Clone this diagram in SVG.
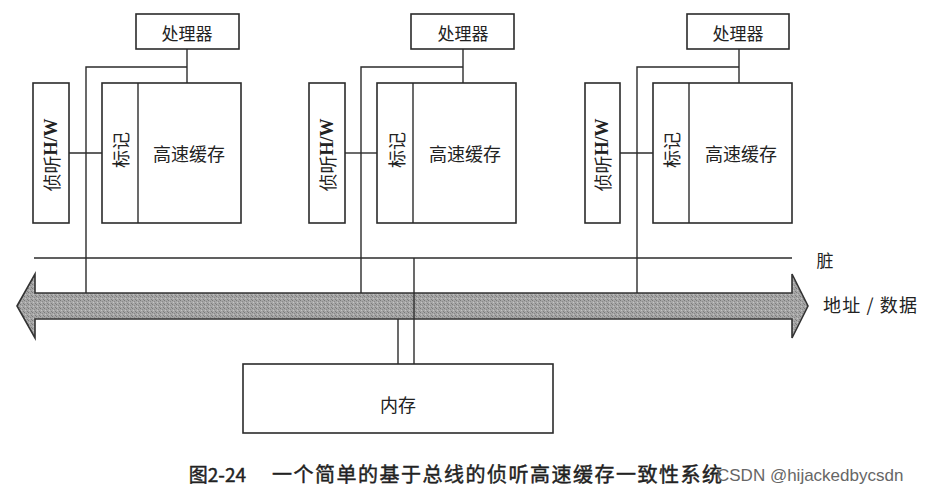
<svg xmlns="http://www.w3.org/2000/svg" width="928" height="494" viewBox="0 0 928 494">
<defs>
<pattern id="grain" width="4" height="4" patternUnits="userSpaceOnUse">
<rect width="4" height="4" fill="#a6a6a6"/>
<rect x="0" y="0" width="1" height="1" fill="#7a7a7a"/>
<rect x="2" y="1" width="1" height="1" fill="#8a8a8a"/>
<rect x="1" y="2" width="1" height="1" fill="#c4c4c4"/>
<rect x="3" y="3" width="1" height="1" fill="#7f7f7f"/>
</pattern>
<style>
.box{fill:none;stroke:#2b2b2b;stroke-width:1.6}
.ln{fill:none;stroke:#2b2b2b;stroke-width:1.4}
.t{font-family:"Noto Sans CJK SC","Noto Sans",sans-serif;fill:#222;text-anchor:middle;dominant-baseline:central}
.hw{font-family:"Liberation Serif",serif;font-weight:bold}
.cap{font-family:"Noto Sans CJK SC","Noto Sans",sans-serif;fill:#222;stroke:#222;stroke-width:0.45}
</style>
</defs>
<rect width="928" height="494" fill="#fff"/>

<g id="bus">
<polygon points="17,306 35,274 35,293 792,293 792,274 808,306 792,338 792,319 35,319 35,338" fill="url(#grain)" stroke="#333" stroke-width="1.6"/>
</g>

<g id="connectors">
<line class="ln" x1="34" y1="258" x2="792" y2="258"/>
<polyline class="ln" points="187,49 187,83"/>
<polyline class="ln" points="187,67 86,67 86,293"/>
<line class="ln" x1="69" y1="153" x2="102" y2="153"/>
<polyline class="ln" points="463,49 463,83"/>
<polyline class="ln" points="463,67 361,67 361,293"/>
<line class="ln" x1="345" y1="153" x2="377" y2="153"/>
<polyline class="ln" points="739,49 739,83"/>
<polyline class="ln" points="739,67 637,67 637,293"/>
<line class="ln" x1="620" y1="153" x2="653" y2="153"/>
<line class="ln" x1="414" y1="258" x2="414" y2="364"/>
<line class="ln" x1="398" y1="319" x2="398" y2="364"/>
</g>

<g id="cpu1"><rect class="box" x="136" y="14" width="103" height="35"/><text class="t" x="187" y="32" font-size="17">处理器</text></g>
<g id="snoop1"><rect class="box" x="33" y="83" width="36" height="140"/><text class="t" font-size="18" transform="translate(51,155) rotate(-90)">侦听<tspan class="hw">H/W</tspan></text></g>
<g id="cache1"><rect class="box" x="102" y="83" width="139" height="140"/><line class="ln" x1="138" y1="83" x2="138" y2="223"/><text class="t" font-size="18" transform="translate(120,150) rotate(-90)">标记</text><text class="t" x="189" y="153" font-size="18">高速缓存</text></g>

<g id="cpu2"><rect class="box" x="411" y="14" width="103" height="35"/><text class="t" x="463" y="32" font-size="17">处理器</text></g>
<g id="snoop2"><rect class="box" x="309" y="83" width="36" height="140"/><text class="t" font-size="18" transform="translate(327,155) rotate(-90)">侦听<tspan class="hw">H/W</tspan></text></g>
<g id="cache2"><rect class="box" x="377" y="83" width="139" height="140"/><line class="ln" x1="413" y1="83" x2="413" y2="223"/><text class="t" font-size="18" transform="translate(396,150) rotate(-90)">标记</text><text class="t" x="465" y="153" font-size="18">高速缓存</text></g>

<g id="cpu3"><rect class="box" x="687" y="14" width="102" height="35"/><text class="t" x="738" y="32" font-size="17">处理器</text></g>
<g id="snoop3"><rect class="box" x="585" y="83" width="35" height="140"/><text class="t" font-size="18" transform="translate(602,155) rotate(-90)">侦听<tspan class="hw">H/W</tspan></text></g>
<g id="cache3"><rect class="box" x="653" y="83" width="139" height="140"/><line class="ln" x1="689" y1="83" x2="689" y2="223"/><text class="t" font-size="18" transform="translate(671,150) rotate(-90)">标记</text><text class="t" x="741" y="153" font-size="18">高速缓存</text></g>

<g id="memory"><rect class="box" x="243" y="364" width="310" height="69"/><text class="t" x="398" y="404" font-size="18">内存</text></g>

<g id="labels">
<text class="t" x="825" y="259" font-size="17">脏</text>
<text class="t" x="870" y="304" font-size="18" textLength="94" lengthAdjust="spacing">地址 / 数据</text>
<text class="cap" x="246" y="482" font-size="19" text-anchor="end">图2-24</text>
<text class="cap" x="272" y="482" font-size="20" textLength="450" lengthAdjust="spacing">一个简单的基于总线的侦听高速缓存一致性系统</text>
<text x="717" y="481" font-size="17" font-family="&quot;Liberation Sans&quot;,Arial,sans-serif" fill="#666">CSDN @hijackedbycsdn</text>
</g>
</svg>
